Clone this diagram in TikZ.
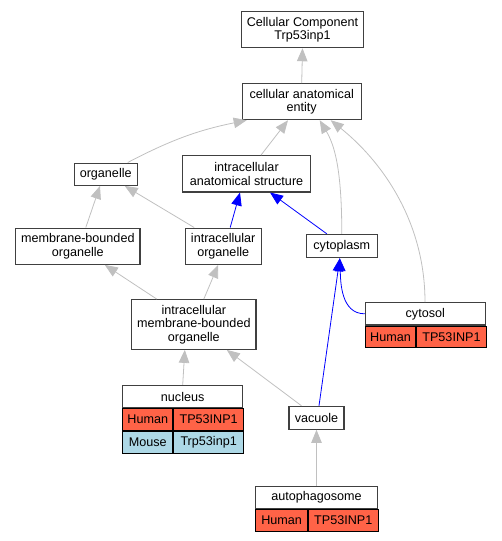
\documentclass[tikz,border=0pt]{standalone}
\usepackage{fontspec}
\setmainfont{Liberation Sans}
\definecolor{edgegray}{RGB}{192, 192, 192}
\definecolor{boxgray}{RGB}{64, 64, 64}
\definecolor{humanred}{RGB}{255, 99, 71}
\definecolor{mouseblue}{RGB}{173, 216, 230}
\definecolor{partblue}{RGB}{0, 0, 255}
\usetikzlibrary{arrows.meta, positioning}

\tikzset{
  term/.style={draw=boxgray, line width=1.1pt, fill=white, align=center, inner sep=0pt,
    font=\fontsize{12.6}{13.5}\selectfont},
  cell/.style={draw=black, line width=0.9pt, inner sep=0pt, minimum height=21.7pt,
    font=\fontsize{12.6}{13.5}\selectfont},
  human/.style={cell, fill=humanred},
  mouse/.style={cell, fill=mouseblue},
  isa/.style={draw=edgegray, line width=0.8pt, -{Triangle[length=13pt, width=10.5pt, fill=edgegray]}},
  partof/.style={draw=partblue, line width=0.8pt, -{Triangle[length=13pt, width=10.5pt, fill=partblue]}}
}

\begin{document}
\begin{tikzpicture}[x=1pt, y=1pt]
  \useasboundingbox (0,0) rectangle (501,-541);

  % terms
  \node[term, minimum width=122.7pt, minimum height=36pt] (cc) at (302.5,-29.7) {Cellular Component\\Trp53inp1};
  \node[term, minimum width=118.7pt, minimum height=36pt] (cae) at (301.7,-101.7) {cellular anatomical\\entity};
  \node[term, minimum width=62.7pt, minimum height=22.3pt] (org) at (105.7,-174.2) {organelle};
  \node[term, minimum width=128.3pt, minimum height=36.3pt] (ias) at (246.5,-173.8) {intracellular\\anatomical structure};
  \node[term, minimum width=124.3pt, minimum height=36.3pt] (mbo) at (77.8,-246.2) {membrane-bounded\\organelle};
  \node[term, minimum width=76.3pt, minimum height=36.3pt] (io) at (223.2,-246.2) {intracellular\\organelle};
  \node[term, minimum width=71pt, minimum height=23.3pt] (cyto) at (341.8,-246) {cytoplasm};
  \node[term, minimum width=124.3pt, minimum height=49.7pt] (imbo) at (193.8,-324.5) {intracellular\\membrane-bounded\\organelle};
  \node[term, minimum width=55pt, minimum height=23pt] (vac) at (316.5,-417.8) {vacuole};

  % terms with gene rows
  \node[term, minimum width=120pt, minimum height=22.3pt] (cytosol) at (425.3,-313.8) {cytosol};
  \node[human, minimum width=50.7pt, below right=0pt and 0pt of cytosol.south west] (cytosolH) {Human};
  \node[human, minimum width=69.3pt, right=0pt of cytosolH] (cytosolG) {TP53INP1};

  \node[term, minimum width=120pt, minimum height=22.3pt] (nuc) at (182.7,-396.5) {nucleus};
  \node[human, minimum width=50.3pt, below right=0pt and 0pt of nuc.south west] (nucH) {Human};
  \node[human, minimum width=69.7pt, right=0pt of nucH] (nucG) {TP53INP1};
  \node[mouse, minimum width=50.3pt, below=0pt of nucH] (nucM) {Mouse};
  \node[mouse, minimum width=69.7pt, right=0pt of nucM] (nucMG) {Trp53inp1};

  \node[term, minimum width=121.6pt, minimum height=22pt] (auto) at (316.5,-497.7) {autophagosome};
  \node[human, minimum width=52pt, below right=0pt and 0pt of auto.south west] (autoH) {Human};
  \node[human, minimum width=69.6pt, right=0pt of autoH] (autoG) {TP53INP1};

  % is_a edges
  \draw[isa] (cae.north) -- (cc.south);
  \draw[isa] ([xshift=22pt]org.north) to[bend left=8] ([xshift=-55pt]cae.south);
  \draw[isa] ([xshift=14.5pt]ias.north) -- ([xshift=-13.7pt]cae.south);
  \draw[isa] (cyto.north) .. controls +(0,64) and +(15,-25) .. ([xshift=18pt]cae.south);
  \draw[isa] ([xshift=-0.3pt]cytosol.north) .. controls +(0,82) and +(50,-40) .. ([xshift=29pt]cae.south);
  \draw[isa] ([xshift=8pt]mbo.north) -- ([xshift=-5.7pt]org.south);
  \draw[isa] ([xshift=-29pt]io.north) -- ([xshift=19pt]org.south);
  \draw[isa] ([xshift=-37pt]imbo.north) -- ([xshift=27pt]mbo.south);
  \draw[isa] ([xshift=10pt]imbo.north) -- ([xshift=-5pt]io.south);
  \draw[isa] (nuc.north) -- ([xshift=-9pt]imbo.south);
  \draw[isa] ([xshift=-15pt]vac.north) -- ([xshift=33pt]imbo.south);
  \draw[isa] (auto.north) -- (vac.south);

  % part_of edges
  \draw[partof] ([xshift=7pt]io.north) -- ([xshift=-6.5pt]ias.south);
  \draw[partof] ([xshift=-15pt]cyto.north) -- ([xshift=23.5pt]ias.south);
  \draw[partof] ([xshift=2.5pt]vac.north) -- ([xshift=-2pt]cyto.south);
  \draw[partof] (cytosol.west) to[out=180, in=-88] ([xshift=-2pt]cyto.south);
\end{tikzpicture}
\end{document}
